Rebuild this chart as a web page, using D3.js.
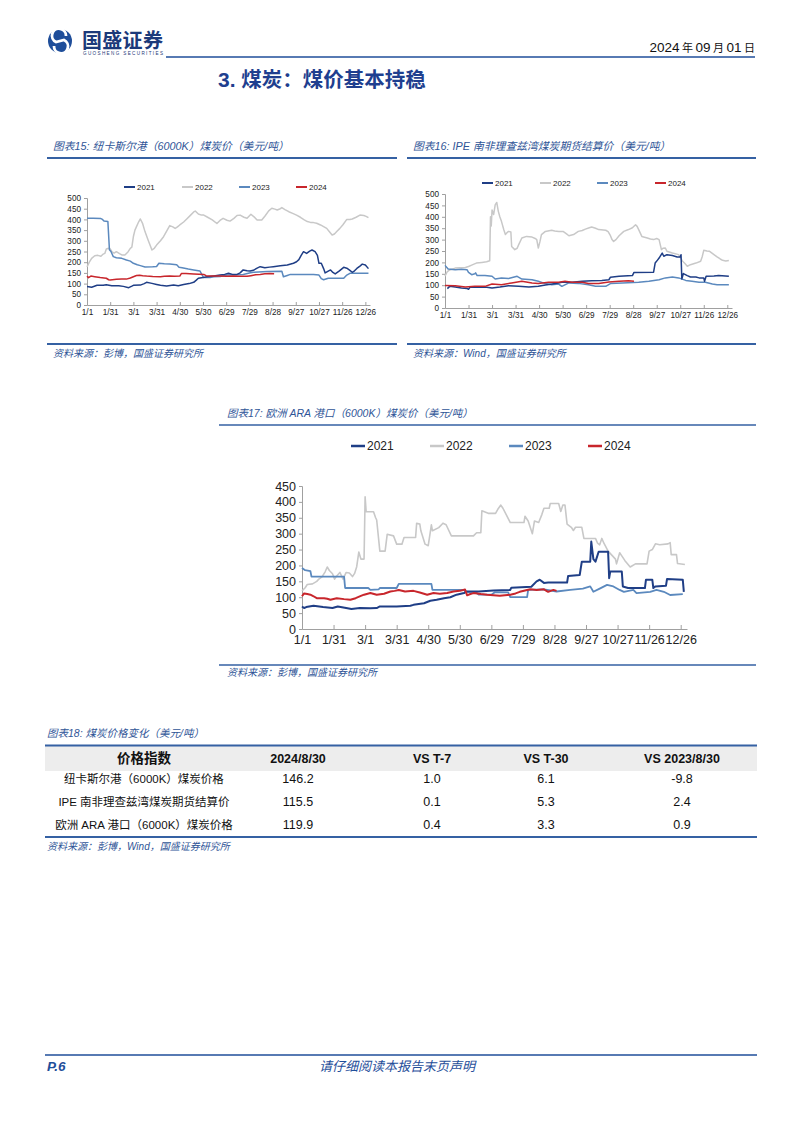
<!DOCTYPE html>
<html><head><meta charset="utf-8">
<script src="https://cdn.jsdelivr.net/npm/d3@7"></script>
<style>
body{margin:0;background:#fff;}
svg text{font-family:"Liberation Sans",Arial,"Noto Sans CJK SC",sans-serif;}
</style></head><body>
<svg id="page" width="802" height="1133"></svg>
<script>
// ---------------- DATA ----------------
const xTickLabels = ["1/1","1/31","3/1","3/31","4/30","5/30","6/29","7/29","8/28","9/27","10/27","11/26","12/26"];
const xTickDays = [0,30,60,90,120,150,180,210,240,270,300,330,360];
const years = ["2021","2022","2023","2024"];
const yTicks500 = [0,50,100,150,200,250,300,350,400,450,500];
const yTicks450 = [0,50,100,150,200,250,300,350,400,450];

// Chart 15: Newcastle (6000K) [day, USD/t]
const nc2021 = [[0,86],[6,83],[13,92],[21,92],[25,95],[32,90],[41,90],[47,87],[54,81],[58,88],[60,92],[69,93],[74,100],[77,106],[84,101],[90,96],[95,92],[103,89],[112,93],[118,90],[125,96],[132,100],[138,106],[141,115],[144,125],[150,128],[155,132],[164,136],[172,140],[178,143],[183,148],[188,143],[194,143],[198,150],[202,164],[207,160],[211,159],[215,162],[220,172],[224,179],[230,174],[236,177],[241,179],[250,183],[259,187],[267,195],[271,202],[274,212],[277,232],[280,249],[284,241],[288,252],[291,257],[295,249],[298,232],[300,195],[303,195],[306,170],[308,150],[312,158],[315,164],[318,152],[321,145],[326,158],[332,176],[336,172],[340,162],[343,153],[346,160],[349,171],[353,182],[356,191],[360,187],[364,170]];
const nc2022 = [[0,178],[3,200],[6,218],[10,230],[14,232],[18,228],[21,238],[23,241],[25,262],[28,265],[30,262],[32,250],[35,242],[38,249],[42,240],[45,234],[49,234],[53,248],[56,265],[58,270],[60,320],[62,350],[64,366],[67,390],[69,402],[72,380],[75,343],[79,304],[84,257],[87,265],[90,280],[95,300],[99,319],[103,345],[107,371],[111,365],[114,358],[117,365],[120,374],[125,388],[129,402],[134,420],[138,435],[140,439],[144,425],[148,420],[151,420],[156,410],[162,398],[168,381],[172,395],[176,405],[181,396],[185,392],[190,405],[194,418],[198,420],[203,410],[207,405],[212,424],[216,412],[220,397],[226,397],[230,415],[235,440],[239,452],[243,448],[246,444],[250,450],[252,455],[256,446],[261,436],[266,428],[271,420],[276,410],[281,398],[285,390],[289,386],[293,385],[297,382],[302,374],[306,366],[310,358],[313,345],[317,327],[320,332],[323,343],[327,358],[331,375],[336,400],[340,400],[343,402],[348,410],[353,420],[358,418],[361,414],[364,408]];
const nc2023 = [[0,405],[8,405],[18,404],[20,400],[22,392],[27,390],[29,258],[31,250],[34,226],[38,221],[45,218],[51,210],[56,205],[60,195],[65,188],[69,184],[75,178],[85,179],[90,180],[93,195],[100,193],[107,192],[116,188],[119,176],[123,174],[131,168],[138,164],[146,159],[149,140],[151,128],[159,128],[164,132],[172,133],[178,138],[181,140],[189,141],[202,143],[210,150],[215,153],[233,156],[252,158],[254,132],[259,138],[263,143],[293,143],[300,140],[303,123],[306,118],[312,125],[332,125],[336,140],[340,148],[364,148]];
const nc2024 = [[0,135],[2,128],[5,135],[10,132],[17,128],[22,126],[25,125],[28,118],[30,117],[38,120],[45,122],[51,121],[56,126],[60,132],[64,138],[68,139],[72,137],[77,135],[85,133],[95,132],[100,134],[107,136],[113,134],[120,135],[122,147],[128,147],[138,145],[145,144],[151,143],[154,137],[160,136],[172,135],[180,134],[189,136],[198,134],[207,134],[212,137],[218,141],[224,143],[230,146],[236,147],[242,146]];

// Chart 16: IPE Richards Bay futures settlement [day, USD/t]
const ipe2021 = [[3,85],[6,95],[13,92],[21,88],[28,86],[30,82],[32,92],[38,91],[51,92],[60,88],[70,92],[81,98],[94,95],[107,92],[119,95],[128,101],[141,107],[149,113],[162,113],[175,117],[187,120],[200,121],[209,124],[211,135],[222,139],[239,142],[241,156],[266,157],[268,197],[271,210],[273,219],[277,241],[279,227],[283,234],[290,230],[296,224],[300,224],[301,234],[302,127],[304,151],[309,142],[313,136],[320,136],[324,132],[330,132],[331,117],[333,139],[343,140],[349,143],[362,139]];
const ipe2022 = [[0,140],[3,160],[6,167],[13,175],[19,177],[26,178],[30,182],[34,188],[40,197],[47,200],[53,203],[57,207],[58,400],[59,360],[60,430],[62,410],[64,452],[66,463],[68,424],[70,399],[72,380],[75,343],[77,322],[79,330],[81,336],[84,333],[85,270],[89,256],[92,262],[94,278],[98,307],[104,314],[111,311],[115,305],[117,300],[119,263],[121,290],[123,322],[128,336],[136,341],[140,338],[145,336],[151,335],[155,325],[158,317],[164,322],[170,336],[175,340],[179,346],[184,352],[187,355],[192,350],[196,344],[205,341],[208,335],[211,317],[213,300],[215,292],[218,300],[222,317],[228,336],[234,344],[239,352],[243,365],[245,358],[247,344],[251,314],[258,307],[262,303],[266,300],[270,305],[273,300],[276,256],[278,262],[281,263],[283,249],[290,241],[298,234],[303,205],[306,195],[309,183],[313,190],[320,197],[326,205],[328,225],[330,253],[334,250],[337,249],[343,234],[347,224],[351,215],[354,209],[358,206],[362,208]];
const ipe2023 = [[0,187],[4,171],[13,168],[21,170],[28,168],[30,156],[34,146],[38,150],[39,154],[41,142],[51,143],[60,139],[64,127],[72,132],[81,129],[92,139],[98,127],[111,124],[119,117],[128,107],[136,102],[145,105],[149,95],[158,110],[170,108],[183,102],[192,95],[205,95],[211,107],[226,110],[247,113],[260,117],[273,124],[281,132],[290,136],[298,132],[307,121],[315,117],[324,113],[332,113],[341,105],[347,102],[362,102]];
const ipe2024 = [[0,99],[13,98],[26,92],[38,95],[51,95],[60,105],[72,102],[85,110],[98,117],[111,110],[119,107],[132,113],[145,113],[153,117],[162,113],[175,113],[183,107],[196,107],[209,114],[222,117],[234,120],[241,117]];

// Chart 17: Europe ARA (6000K) [day, USD/t]
const ara2021 = [[0,71],[2,66],[4,69],[11,73],[20,69],[29,66],[34,71],[42,66],[47,63],[55,66],[65,65],[71,66],[74,71],[90,71],[103,73],[106,76],[116,81],[122,89],[128,92],[135,97],[141,100],[147,108],[154,113],[156,118],[168,118],[182,121],[198,123],[199,130],[218,133],[223,150],[226,155],[230,145],[234,146],[252,146],[253,167],[264,170],[266,212],[274,212],[275,275],[277,220],[279,212],[282,243],[291,243],[292,160],[293,181],[304,181],[305,134],[310,129],[326,129],[327,155],[333,155],[334,129],[336,134],[346,136],[347,157],[362,155],[363,117]];
const ara2022 = [[0,120],[3,130],[5,140],[10,142],[14,150],[16,157],[19,164],[22,180],[24,195],[26,184],[29,174],[31,157],[33,167],[36,178],[39,157],[42,178],[45,176],[48,165],[50,175],[52,196],[54,242],[56,220],[59,220],[60,416],[61,369],[68,369],[70,350],[71,343],[74,245],[79,245],[81,298],[87,293],[90,267],[95,267],[97,288],[108,288],[109,333],[112,330],[113,309],[117,267],[120,262],[123,328],[124,309],[130,319],[134,333],[137,328],[142,293],[163,293],[166,303],[170,303],[171,372],[177,364],[184,364],[186,376],[189,390],[191,380],[198,335],[211,335],[212,355],[215,340],[219,300],[221,340],[225,335],[228,360],[230,380],[235,380],[236,395],[244,395],[246,370],[248,390],[250,390],[252,330],[256,320],[258,310],[260,320],[266,320],[268,285],[279,285],[281,270],[283,265],[285,285],[287,270],[291,245],[298,220],[299,205],[302,240],[304,230],[307,215],[312,195],[317,205],[328,205],[330,245],[333,250],[336,268],[340,265],[348,268],[350,272],[351,234],[356,234],[357,206],[364,203]];
const ara2023 = [[0,192],[3,185],[8,182],[9,165],[40,165],[41,129],[63,129],[65,123],[73,125],[74,129],[90,129],[92,142],[123,142],[124,123],[154,123],[156,117],[165,117],[168,108],[180,108],[183,115],[196,115],[198,100],[214,100],[215,123],[230,125],[242,118],[255,123],[267,127],[274,134],[277,117],[283,127],[290,139],[296,134],[302,123],[306,117],[315,123],[318,113],[331,117],[337,123],[344,117],[350,107],[362,110]];
const ara2024 = [[0,103],[2,112],[5,110],[8,108],[11,103],[14,97],[21,97],[24,95],[27,92],[33,97],[40,94],[46,92],[51,97],[56,104],[59,108],[65,113],[71,108],[78,111],[84,118],[88,120],[92,123],[98,118],[106,120],[112,115],[119,108],[125,113],[131,111],[138,113],[144,118],[150,120],[155,124],[157,106],[160,110],[163,113],[170,110],[176,108],[188,105],[198,108],[203,112],[207,117],[212,121],[217,125],[223,123],[230,125],[234,117],[239,123],[242,120]];

// Table 18
const tableHeaders = ["价格指数","2024/8/30","VS T-7","VS T-30","VS 2023/8/30"];
const tableRows = ["纽卡斯尔港（6000K）煤炭价格","IPE 南非理查兹湾煤炭期货结算价","欧洲 ARA 港口（6000K）煤炭价格"];
const latest = [146.2,115.5,119.9];
const vsT7 = [1.0,0.1,0.4];
const vsT30 = [6.1,5.3,3.3];
const vs2023 = [-9.8,2.4,0.9];

// ---------------- STYLE ----------------
const yearColors = ["#1F3E86","#C8C8C8","#5B89BE","#C8262C"];
const drawOrder = [1,2,0,3];
const navy = "#1C3A7A", blue = "#2F5597", lineBlue = "#3561A3";
const CJK = '"Noto Sans CJK SC","Liberation Sans",sans-serif';
const LAT = '"Liberation Sans",Arial,sans-serif';

const svg = d3.select("#page");

// ---------------- HEADER ----------------
const logo = svg.append("g").attr("transform","translate(60,41)");
logo.append("circle").attr("r",12).attr("fill","#1F4E9A");
logo.append("path").attr("d","M6,-5 A7,7 0 1 0 -4,1 L4,-1 A7,7 0 1 1 -6,5")
  .attr("fill","none").attr("stroke","#fff").attr("stroke-width",2.8);
svg.append("text").attr("x",82).attr("y",48).attr("font-family",CJK).attr("font-weight","bold")
  .attr("font-size",20).attr("fill",navy).attr("letter-spacing",0.3).text("国盛证券");
svg.append("text").attr("x",83).attr("y",55).attr("font-family",LAT).attr("font-size",4.6)
  .attr("fill","#1F3A7A").attr("letter-spacing",1.35).text("GUOSHENG SECURITIES");
svg.append("line").attr("x1",166).attr("x2",755).attr("y1",57).attr("y2",57)
  .attr("stroke","#1F4E9A").attr("stroke-width",1.5);
const dt = svg.append("text").attr("x",755).attr("y",52).attr("text-anchor","end")
  .attr("font-size",13).attr("fill","#111");
[["2024",13.5,LAT],[" 年 ",11,CJK],["09",13.5,LAT],[" 月 ",11,CJK],["01",13.5,LAT],[" 日",11,CJK]]
  .forEach(([t,s,f])=>dt.append("tspan").attr("font-size",s).attr("font-family",f).text(t));

const ttl = svg.append("text").attr("x",218).attr("y",87).attr("font-weight","bold").attr("fill","#1F3F8F");
ttl.append("tspan").attr("font-family",LAT).attr("font-size",21).text("3.  ");
ttl.append("tspan").attr("font-family",CJK).attr("font-size",20.5).text("煤炭：煤价基本持稳");

// ---------------- helpers ----------------
function caption(x, y, txt, size){
  svg.append("text").attr("x",x).attr("y",y).attr("font-family",CJK).attr("font-style","italic")
    .attr("font-size",size||10.5).attr("fill",blue).text(txt);
}
function rule(x1,x2,y,w){
  svg.append("line").attr("x1",x1).attr("x2",x2).attr("y1",y).attr("y2",y)
    .attr("stroke",lineBlue).attr("stroke-width",w||2);
}

function drawChart(c){
  const x = d3.scaleLinear().domain([0,366]).range([c.x0,c.x1]);
  const y = d3.scaleLinear().domain([0,c.ymax]).range([c.y0,c.y1]);
  const g = svg.append("g");
  const ya = d3.axisLeft(y).tickValues(c.yticks).tickSize(3).tickPadding(3);
  const yg = g.append("g").attr("transform",`translate(${c.x0},0)`).call(ya);
  yg.select(".domain").attr("stroke","#A0A0A0");
  yg.selectAll(".tick line").attr("stroke","#A0A0A0");
  yg.selectAll("text").attr("font-family",LAT).attr("font-size",c.fs).attr("fill","#222");
  const xa = d3.axisBottom(x).tickValues(xTickDays).tickFormat((d,i)=>xTickLabels[i])
    .tickSizeInner(-c.tick).tickSizeOuter(0).tickPadding(c.xpad);
  const xg = g.append("g").attr("transform",`translate(0,${c.y0})`).call(xa);
  xg.select(".domain").attr("stroke","#A0A0A0");
  xg.selectAll(".tick line").attr("stroke","#A0A0A0");
  xg.selectAll("text").attr("font-family",LAT).attr("font-size",c.fs).attr("fill","#222");
  const line = d3.line().x(d=>x(d[0])).y(d=>y(d[1]));
  drawOrder.forEach(i=>{
    g.append("path").datum(c.series[i]).attr("d",line).attr("fill","none")
      .attr("stroke",yearColors[i]).attr("stroke-width",c.lw[i]).attr("stroke-linejoin","round");
  });
  years.forEach((yr,i)=>{
    const lx = c.legX[i];
    g.append("line").attr("x1",lx).attr("x2",lx+c.legLen).attr("y1",c.legY).attr("y2",c.legY)
      .attr("stroke",yearColors[i]).attr("stroke-width",c.legW);
    g.append("text").attr("x",lx+c.legLen+2).attr("y",c.legY).attr("dy","0.35em")
      .attr("font-family",LAT).attr("font-size",c.legFs).attr("fill","#222").text(yr);
  });
}

// ---------------- Chart 15 ----------------
caption(53,150,"图表15:  纽卡斯尔港（6000K）煤炭价（美元/吨）",10.8);
rule(47,397,158);
drawChart({x0:87,x1:370,y0:305,y1:198,ymax:500,yticks:yTicks500,fs:8.2,tick:3,xpad:4,
  series:[nc2021,nc2022,nc2023,nc2024],lw:[1.5,1.5,1.5,1.5],
  legX:[124,182,239,296],legLen:11,legY:187,legW:2,legFs:8});
rule(47,397,344);
caption(53,357,"资料来源：彭博，国盛证券研究所",10);

// ---------------- Chart 16 ----------------
caption(413,150,"图表16:  IPE 南非理查兹湾煤炭期货结算价（美元/吨）",10.8);
rule(407,756,158);
drawChart({x0:445,x1:732,y0:308,y1:194,ymax:500,yticks:yTicks500,fs:8.2,tick:3,xpad:4,
  series:[ipe2021,ipe2022,ipe2023,ipe2024],lw:[1.5,1.5,1.5,1.5],
  legX:[482,540,597,655],legLen:11,legY:183,legW:2,legFs:8});
rule(407,756,344);
caption(413,357,"资料来源：Wind，国盛证券研究所",10);

// ---------------- Chart 17 ----------------
caption(227,417,"图表17:  欧洲 ARA 港口（6000K）煤炭价（美元/吨）",10.5);
rule(219,756,425,1.5);
drawChart({x0:302,x1:687,y0:629,y1:486,ymax:450,yticks:yTicks450,fs:12.5,tick:4,xpad:6,
  series:[ara2021,ara2022,ara2023,ara2024],lw:[2,1.6,1.8,2],
  legX:[351,430,509,588],legLen:14,legY:446,legW:2.5,legFs:12});
rule(219,756,665,1.5);
caption(227,676,"资料来源：彭博，国盛证券研究所",10);

// ---------------- Table 18 ----------------
caption(47,737,"图表18:  煤炭价格变化（美元/吨）",10.5);
const colX = [144,298,432,546,682];
svg.append("rect").attr("x",45).attr("y",746).attr("width",712).attr("height",25).attr("fill","#EDEDED");
rule(45,757,745.5,2);
tableHeaders.forEach((h,i)=>{
  svg.append("text").attr("x",colX[i]).attr("y",763).attr("text-anchor","middle")
    .attr("font-family", i===0?CJK:LAT).attr("font-weight","bold").attr("font-size",i===0?13.5:12.5)
    .attr("fill","#111").text(h);
});
const rowY = [779,802,825];
tableRows.forEach((r,j)=>{
  svg.append("text").attr("x",colX[0]).attr("y",rowY[j]).attr("dy","0.35em").attr("text-anchor","middle")
    .attr("font-family",CJK).attr("font-size",11.5).attr("fill","#111").text(r);
  [latest,vsT7,vsT30,vs2023].forEach((arr,k)=>{
    svg.append("text").attr("x",colX[k+1]).attr("y",rowY[j]).attr("dy","0.35em").attr("text-anchor","middle")
      .attr("font-family",LAT).attr("font-size",12.5).attr("fill","#111").text(arr[j].toFixed(1));
  });
});
rule(45,757,837,2);
caption(47,850,"资料来源：彭博，Wind，国盛证券研究所",10);

// ---------------- Footer ----------------
svg.append("line").attr("x1",45).attr("x2",757).attr("y1",1055).attr("y2",1055)
  .attr("stroke","#1F4E9A").attr("stroke-width",1.5);
svg.append("text").attr("x",47).attr("y",1071).attr("font-family",LAT).attr("font-weight","bold")
  .attr("font-style","italic").attr("font-size",13.5).attr("fill","#1F4E9A").text("P.6");
svg.append("text").attr("x",397).attr("y",1071).attr("text-anchor","middle").attr("font-family",CJK)
  .attr("font-style","italic").attr("font-size",13).attr("fill","#1F4E9A").text("请仔细阅读本报告末页声明");
</script>
</body></html>
